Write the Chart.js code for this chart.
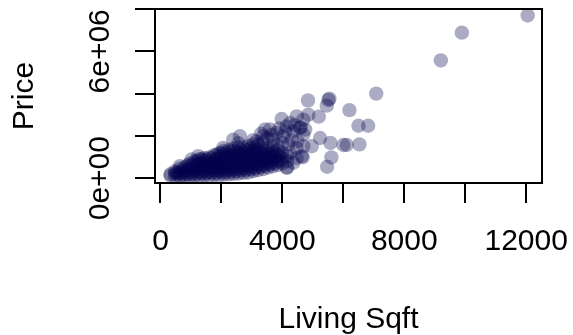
<!DOCTYPE html>
<html>
<head>
<meta charset="utf-8">
<script src="https://cdn.jsdelivr.net/npm/chart.js@4"></script>
<style>
  body { margin: 0; background: #fff; }
  canvas { display: block; }
</style>
</head>
<body>
<canvas id="graph_price" width="573" height="335"></canvas>
<script>
// Dados (preço em milhares de dólares)

// núcleo denso: uma coluna de sqft, vários preços por coluna
const coreSqft = [330, 480, 640, 800, 960, 1120, 1280, 1440, 1600, 1760, 1920, 2080, 2240, 2400, 2560, 2720, 2880, 3040, 3200, 3360, 3520, 3680, 3840, 4000, 4160];
const corePriceK = [
  [120, 190],
  [90, 230, 330],
  [80, 250, 450],
  [100, 300, 520],
  [90, 280, 480, 680],
  [110, 320, 540, 780],
  [100, 290, 500, 720, 900],
  [130, 350, 570, 800, 960],
  [120, 320, 530, 750, 980],
  [150, 370, 600, 830, 1080],
  [140, 350, 560, 780, 1000, 1180],
  [170, 390, 620, 850, 1080, 1300],
  [180, 400, 630, 860, 1090, 1320],
  [200, 430, 660, 900, 1130, 1400],
  [220, 450, 690, 930, 1170, 1450, 1650],
  [250, 480, 720, 960, 1200, 1450],
  [270, 510, 750, 1000, 1250, 1520],
  [330, 560, 790, 1030, 1280, 1600, 1800],
  [380, 600, 840, 1080, 1330, 1580],
  [430, 650, 880, 1120, 1380, 1700],
  [500, 720, 950, 1180, 1420],
  [560, 780, 1000, 1250, 1500],
  [620, 850, 1080, 1320],
  [700, 950, 1180],
  [520, 800, 1050],
];

const core2Sqft = [560, 720, 880, 1040, 1200, 1360, 1520, 1680, 1840, 2000, 2160, 2320, 2480, 2640, 2800, 2960, 3120, 3280, 3440, 3600, 3760, 3920];
const core2PriceK = [
  [160, 280],
  [170, 360],
  [190, 400, 600],
  [200, 420, 640],
  [210, 430, 650, 830],
  [230, 460, 680, 880],
  [240, 460, 680, 880],
  [260, 480, 710, 940],
  [250, 460, 680, 900, 1100],
  [280, 500, 730, 960, 1180],
  [290, 510, 740, 970, 1200],
  [310, 540, 780, 1010, 1250],
  [330, 560, 800, 1040, 1280],
  [360, 590, 830, 1070, 1320],
  [390, 620, 860, 1100, 1350],
  [430, 660, 900, 1140, 1400],
  [470, 700, 940, 1200, 1450],
  [530, 760, 1000, 1240],
  [580, 820, 1060, 1300],
  [640, 880, 1120],
  [700, 940, 1180],
  [800, 1050],
];

// borda do agrupamento
const fringeSqft = [3977, 4250, 4470, 4690, 4852, 4580, 4360, 4142, 3813, 3593, 3430, 3373, 3703, 4030, 4307, 4688, 4688, 4470, 4963, 4250, 4470, 4635, 4360, 4142, 3156, 2607, 2387, 2058, 1236, 1019, 634, 3900, 4100, 3650, 4400, 4000, 4200, 3850, 4500, 4600, 3500, 3300, 4750];
const fringePriceK = [2800, 2610, 2920, 2770, 3000, 2380, 2220, 2450, 2140, 2300, 2300, 1980, 1820, 1980, 1820, 2060, 1510, 1430, 1510, 1200, 960, 1040, 730, 490, 1740, 1980, 1820, 1430, 1040, 880, 570, 2350, 2200, 2050, 2500, 1650, 1600, 1550, 1750, 2400, 1900, 2100, 2300];

// pontos isolados
const outlierSqft = [12050, 9890, 9200, 7080, 4842, 5543, 5510, 5457, 6200, 5194, 6497, 6815, 5237, 5576, 6003, 6114, 6529, 5609, 5467, 4668];
const outlierPriceK = [7700, 6885, 5570, 4000, 3680, 3760, 3700, 3430, 3220, 2910, 2480, 2480, 1900, 1670, 1570, 1570, 1600, 980, 540, 990];

// eixos
const xTicks = [0, 2000, 4000, 6000, 8000, 10000, 12000];
const xLabels = ["0", "", "4000", "", "8000", "", "12000"];
const yTicks = [0, 2e6, 4e6, 6e6, 8e6];
const yLabels = ["0e+00", "", "", "6e+06", ""];

// Montagem dos pontos

const pontos = [];
coreSqft.forEach((s, i) => corePriceK[i].forEach((p) => pontos.push({ x: s, y: p * 1000 })));
core2Sqft.forEach((s, i) => core2PriceK[i].forEach((p) => pontos.push({ x: s, y: p * 1000 })));
fringeSqft.forEach((s, i) => pontos.push({ x: s, y: fringePriceK[i] * 1000 }));
outlierSqft.forEach((s, i) => pontos.push({ x: s, y: outlierPriceK[i] * 1000 }));

const fonte = '30px "Liberation Sans", Arial, sans-serif';

// eixos no estilo do R, desenhados com as escalas do Chart.js
const eixosR = {
  id: "eixosR",
  afterDraw(chart) {
    const ctx = chart.ctx;
    const area = chart.chartArea;
    const xs = chart.scales.x;
    const ys = chart.scales.y;

    ctx.save();
    ctx.strokeStyle = "#000";
    ctx.lineWidth = 2;
    ctx.strokeRect(area.left, area.top, area.right - area.left, area.bottom - area.top);

    ctx.beginPath();
    xTicks.forEach((v) => {
      const px = Math.round(xs.getPixelForValue(v));
      ctx.moveTo(px, area.bottom);
      ctx.lineTo(px, area.bottom + 20);
    });
    yTicks.forEach((v) => {
      const py = Math.round(ys.getPixelForValue(v));
      ctx.moveTo(area.left, py);
      ctx.lineTo(area.left - 20, py);
    });
    ctx.stroke();

    ctx.fillStyle = "#000";
    ctx.font = fonte;
    ctx.textAlign = "center";
    ctx.textBaseline = "alphabetic";
    xTicks.forEach((v, i) => {
      if (xLabels[i]) ctx.fillText(xLabels[i], xs.getPixelForValue(v), 250);
    });
    yTicks.forEach((v, i) => {
      if (!yLabels[i]) return;
      ctx.save();
      ctx.translate(109, ys.getPixelForValue(v));
      ctx.rotate(-Math.PI / 2);
      ctx.fillText(yLabels[i], 0, 0);
      ctx.restore();
    });

    ctx.fillText("Living Sqft", (area.left + area.right) / 2, 328);
    ctx.save();
    ctx.translate(33, (area.top + area.bottom) / 2);
    ctx.rotate(-Math.PI / 2);
    ctx.fillText("Price", 0, 0);
    ctx.restore();
    ctx.restore();
  },
};

const graficoPreco = document.getElementById("graph_price");

new Chart(graficoPreco, {
  type: "scatter",
  data: {
    datasets: [
      {
        label: "Price",
        data: pontos,
        backgroundColor: "rgba(0, 0, 75, 0.33)",
        borderWidth: 0,
        pointRadius: 7.2,
        pointHoverRadius: 7.2,
        clip: 0,
      },
    ],
  },
  options: {
    responsive: false,
    animation: false,
    devicePixelRatio: 1,
    layout: {
      padding: { left: 155, right: 31, top: 9, bottom: 152 },
    },
    scales: {
      x: { type: "linear", min: -180, max: 12520, display: false },
      y: { type: "linear", min: -230000, max: 8005000, display: false },
    },
    plugins: {
      legend: { display: false },
      tooltip: { enabled: false },
    },
  },
  plugins: [eixosR],
});
</script>
</body>
</html>
